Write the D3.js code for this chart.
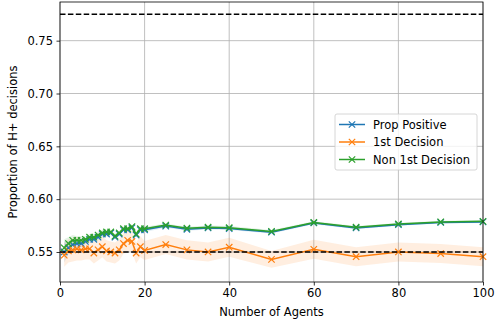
<!DOCTYPE html>
<html>
<head>
<meta charset="utf-8">
<script src="https://cdn.jsdelivr.net/npm/d3@7"></script>
<style>
  body { margin: 0; background: #fff; }
  text { font-family: "DejaVu Sans", sans-serif; }
</style>
</head>
<body>
<div id="chart"></div>
<script>
// number of agents
var agents = [1,2,3,4,5,6,7,8,9,10,11,12,13,14,15,16,17,18,19,20,25,30,35,40,50,60,70,80,90,100];

// proportion of H+ decisions per series
var propPositive = [0.550,0.554,0.557,0.558,0.558,0.560,0.562,0.562,0.564,0.567,0.567,0.568,0.564,0.567,0.571,0.571,0.573,0.566,0.571,0.571,0.5745,0.5715,0.5728,0.5722,0.5688,0.5775,0.5728,0.5758,0.578,0.5785];
var firstDecision = [0.547,0.551,0.552,0.553,0.552,0.553,0.553,0.549,0.552,0.555,0.551,0.550,0.549,0.552,0.558,0.561,0.560,0.549,0.555,0.5515,0.557,0.552,0.550,0.5545,0.543,0.5525,0.5455,0.550,0.5485,0.5455];
var nonFirst = [0.554,0.558,0.561,0.561,0.561,0.562,0.564,0.564,0.566,0.568,0.569,0.569,0.565,0.568,0.572,0.572,0.574,0.567,0.572,0.572,0.5755,0.5725,0.5735,0.573,0.5695,0.578,0.5735,0.5765,0.5785,0.579];

// half-width of shaded bands
var propErr = [0.010,0.006,0.005,0.004,0.004,0.003,0.003,0.003,0.003,0.003,0.002,0.002,0.002,0.002,0.002,0.002,0.002,0.002,0.002,0.002,0.0015,0.0015,0.0015,0.0015,0.0012,0.0012,0.0012,0.001,0.001,0.001];
var firstErr = [0.011,0.011,0.011,0.011,0.010,0.010,0.010,0.010,0.010,0.010,0.010,0.010,0.010,0.010,0.010,0.010,0.010,0.010,0.010,0.009,0.009,0.009,0.009,0.009,0.008,0.009,0.009,0.009,0.009,0.009];
var nonErr = [0.008,0.006,0.005,0.004,0.004,0.003,0.003,0.003,0.003,0.003,0.002,0.002,0.002,0.002,0.002,0.002,0.002,0.002,0.002,0.002,0.0015,0.0015,0.0015,0.0015,0.0012,0.0012,0.0012,0.001,0.001,0.001];

var refLines = [0.775, 0.55];
var xTicks = [0,20,40,60,80,100];
var yTicks = [0.55,0.60,0.65,0.70,0.75];

var W = 495, H = 321;
var margin = {top: 2, right: 12, bottom: 39, left: 60};
var width = W - margin.left - margin.right,
    height = H - margin.top - margin.bottom;
var fs = "11.5px";

var svg = d3.select("#chart").append("svg")
    .attr("width", W)
    .attr("height", H);

var g = svg.append("g")
    .attr("transform", "translate(" + margin.left + "," + margin.top + ")");

var x = d3.scaleLinear().domain([0, 100]).range([0, width]);
var y = d3.scaleLinear().domain([0.5216, 0.7866]).range([height, 0]);

// grid
g.append("g").selectAll("line").data(xTicks).enter().append("line")
    .attr("x1", function(d) { return x(d); }).attr("x2", function(d) { return x(d); })
    .attr("y1", 0).attr("y2", height)
    .style("stroke", "#b0b0b0").style("stroke-width", 0.8);
g.append("g").selectAll("line").data(yTicks).enter().append("line")
    .attr("y1", function(d) { return y(d); }).attr("y2", function(d) { return y(d); })
    .attr("x1", 0).attr("x2", width)
    .style("stroke", "#b0b0b0").style("stroke-width", 0.8);

var series = [
  {name: "Prop Positive", vals: propPositive, err: propErr, color: "#1f77b4"},
  {name: "1st Decision", vals: firstDecision, err: firstErr, color: "#ff7f0e"},
  {name: "Non 1st Decision", vals: nonFirst, err: nonErr, color: "#2ca02c"}
];

var area = d3.area()
    .x(function(d) { return x(d.n); })
    .y0(function(d) { return y(d.v - d.e); })
    .y1(function(d) { return y(d.v + d.e); });

var line = d3.line()
    .x(function(d) { return x(d.n); })
    .y(function(d) { return y(d.v); });

series.forEach(function(s) {
  s.pts = agents.map(function(n, i) { return {n: n, v: s.vals[i], e: s.err[i]}; });
  g.append("path").datum(s.pts)
    .attr("d", area)
    .style("fill", s.color).style("fill-opacity", 0.13).style("stroke", "none");
});

// x marker path
function cross(r) {
  return "M" + (-r) + "," + (-r) + "L" + r + "," + r + "M" + (-r) + "," + r + "L" + r + "," + (-r);
}

series.forEach(function(s) {
  g.append("path").datum(s.pts)
    .attr("d", line)
    .style("fill", "none").style("stroke", s.color).style("stroke-width", 1.5);
  g.append("g").selectAll("path").data(s.pts).enter().append("path")
    .attr("transform", function(d) { return "translate(" + x(d.n) + "," + y(d.v) + ")"; })
    .attr("d", cross(3.2))
    .style("stroke", s.color).style("stroke-width", 1.2).style("fill", "none");
});

// reference dashed lines
g.append("g").selectAll("line").data(refLines).enter().append("line")
    .attr("x1", 0).attr("x2", width)
    .attr("y1", function(d) { return y(d); }).attr("y2", function(d) { return y(d); })
    .style("stroke", "#000").style("stroke-width", 1.5).style("stroke-dasharray", "5.5,2.4");

// frame
g.append("rect").attr("width", width).attr("height", height)
    .style("fill", "none").style("stroke", "#000").style("stroke-width", 0.8);

// axes
var xAxis = g.append("g").attr("transform", "translate(0," + height + ")")
    .call(d3.axisBottom(x).tickValues(xTicks).tickSize(3.5).tickPadding(3.5).tickFormat(d3.format("d")));
var yAxis = g.append("g")
    .call(d3.axisLeft(y).tickValues(yTicks).tickSize(3.5).tickPadding(3.5).tickFormat(d3.format(".2f")));
[xAxis, yAxis].forEach(function(a) {
  a.select(".domain").remove();
  a.selectAll("line").style("stroke", "#000").style("stroke-width", 0.8);
  a.selectAll("text").style("font-family", "DejaVu Sans").style("font-size", fs).style("fill", "#000");
});

// axis labels
svg.append("text")
    .attr("x", margin.left + width / 2).attr("y", 316)
    .attr("text-anchor", "middle")
    .style("font-size", fs)
    .text("Number of Agents");
svg.append("text")
    .attr("transform", "translate(17," + (margin.top + height / 2) + ") rotate(-90)")
    .attr("text-anchor", "middle")
    .style("font-size", fs)
    .text("Proportion of H+ decisions");

// legend
var lg = svg.append("g").attr("transform", "translate(335,114)");
lg.append("rect").attr("width", 142).attr("height", 56).attr("rx", 2)
    .style("fill", "#fff").style("fill-opacity", 0.8)
    .style("stroke", "#cccccc").style("stroke-width", 0.8);
series.forEach(function(s, i) {
  var yy = 10.5 + i * 17.5;
  lg.append("line").attr("x1", 4).attr("x2", 30).attr("y1", yy).attr("y2", yy)
    .style("stroke", s.color).style("stroke-width", 1.5);
  lg.append("path").attr("transform", "translate(17," + yy + ")").attr("d", cross(3.2))
    .style("stroke", s.color).style("stroke-width", 1.2);
  lg.append("text").attr("x", 38).attr("y", yy).attr("dy", "0.35em")
    .style("font-size", fs)
    .text(s.name);
});
</script>
</body>
</html>
